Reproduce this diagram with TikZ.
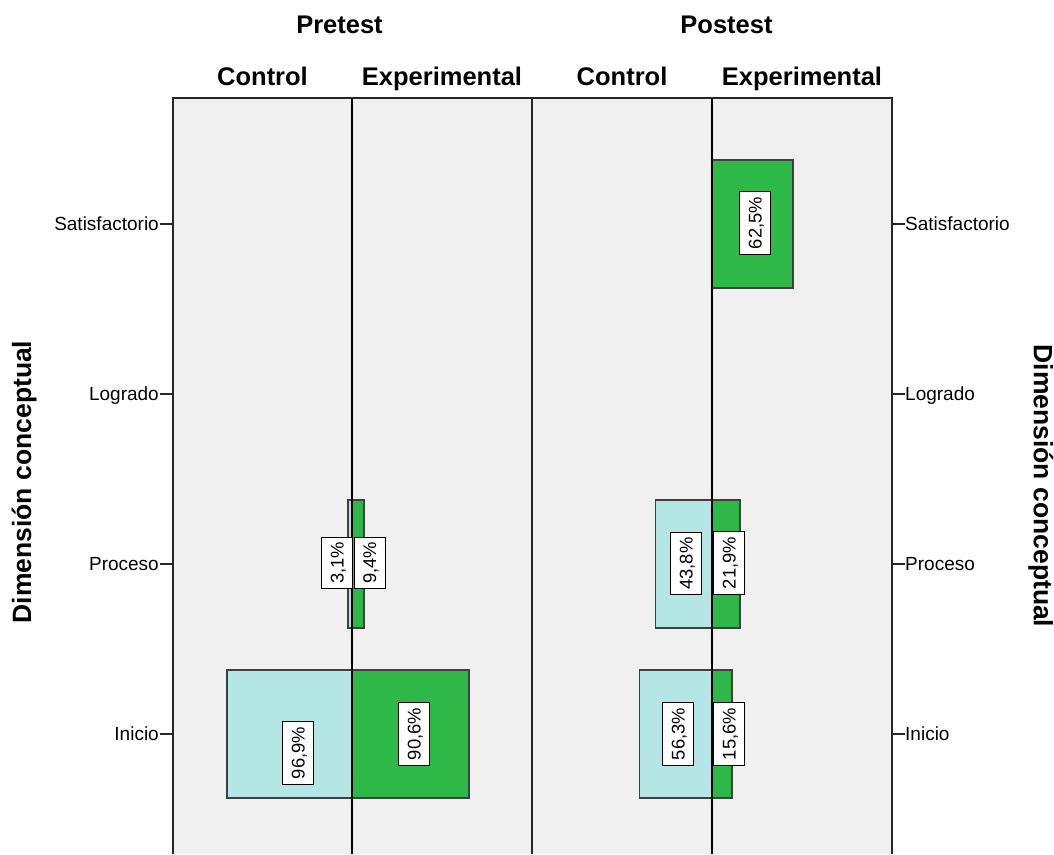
\documentclass[tikz,border=0pt]{standalone}
\usepackage{fontspec}
\setmainfont{Liberation Sans}
\usepackage{xcolor}
\usetikzlibrary{positioning}
\definecolor{panelgray}{RGB}{240,240,240}
\definecolor{ctrlcyan}{RGB}{180,230,230}
\definecolor{expgreen}{RGB}{46,184,72}

\begin{document}
\begin{tikzpicture}[x=1pt,y=-1pt,
    frame/.style={draw=black!85,line width=1.3pt},
    bar/.style={draw=black!75,line width=1.2pt},
    pct/.style={draw=black,fill=white,line width=1pt,rotate=90,inner xsep=5pt,inner ysep=0pt,
                minimum height=31pt,text height=13.2pt,text depth=0pt,font=\fontsize{18.4}{20}\selectfont},
    catlab/.style={inner sep=0pt,text height=13.6pt,text depth=0pt,font=\fontsize{19}{22}\selectfont},
    head/.style={inner sep=0pt,text height=18.3pt,text depth=0pt,font=\fontsize{25.5}{30}\selectfont\bfseries},
  ]
    \useasboundingbox (0,0) rectangle (1054,854);

    % draw panel background
    \fill[panelgray] (173,98) rectangle (892,854);

    % draw bars
    \foreach \xa/\xb/\yc/\col in {348/352/564/ctrlcyan, 352/364/564/expgreen,
                                  227/352/734/ctrlcyan, 352/469/734/expgreen,
                                  712/793/224/expgreen,
                                  655.5/712/564/ctrlcyan, 712/740/564/expgreen,
                                  639.5/712/734/ctrlcyan, 712/732/734/expgreen}
    \draw[bar,fill=\col] (\xa,\yc-64) rectangle (\xb,\yc+64);

    % draw frame and divider
    \draw[frame] (173,854) -- (173,98) -- (892,98) -- (892,854);
    \draw[frame] (532,98) -- (532,854);
    % draw center lines
    \foreach \x in {352,712}
    \draw[line width=2.4pt] (\x,98) -- (\x,854);

    % ticks and category labels
    \foreach \y/\name/\lab in {224/sat/Satisfactorio, 394/log/Logrado, 564/pro/Proceso, 734/ini/Inicio} {
        \draw[frame] (160,\y) -- (173,\y);
        \draw[frame] (892,\y) -- (905,\y);
        \node[catlab,anchor=east] (l\name) at (159,\y) {\lab};
        \node[catlab,anchor=west] (r\name) at (905,\y) {\lab};
    }

    % percentage labels
    \node[pct] (preinictl) at (298,753) {96,9\%};
    \node[pct] (preiniexp) at (414,734) {90,6\%};
    \node[pct] (preproctl) at (337,563) {3,1\%};
    \node[pct] (preproexp) at (369.5,563) {9,4\%};
    \node[pct] (posproctl) at (686,563.5) {43,8\%};
    \node[pct] (posproexp) at (729,563) {21,9\%};
    \node[pct] (posinictl) at (678,734) {56,3\%};
    \node[pct] (posiniexp) at (729,734) {15,6\%};
    \node[pct] (possatexp) at (755,223) {62,5\%};

    % headings
    \node[head] (pre) at (339.5,24.5) {Pretest};
    \node[head] (pos) at (726.5,24.5) {Postest};
    \node[head] (prectl) at (262.5,76.5) {Control};
    \node[head] (preexp) at (442,76.5) {Experimental};
    \node[head] (posctl) at (622,76.5) {Control};
    \node[head] (posexp) at (802,76.5) {Experimental};

    % axis titles
    \node[head,rotate=90,font=\fontsize{26.5}{30}\selectfont\bfseries] (ltitle) at (22,482) {Dimensión conceptual};
    \node[head,rotate=-90,font=\fontsize{26.5}{30}\selectfont\bfseries] (rtitle) at (1043,486) {Dimensión conceptual};
\end{tikzpicture}
\end{document}
